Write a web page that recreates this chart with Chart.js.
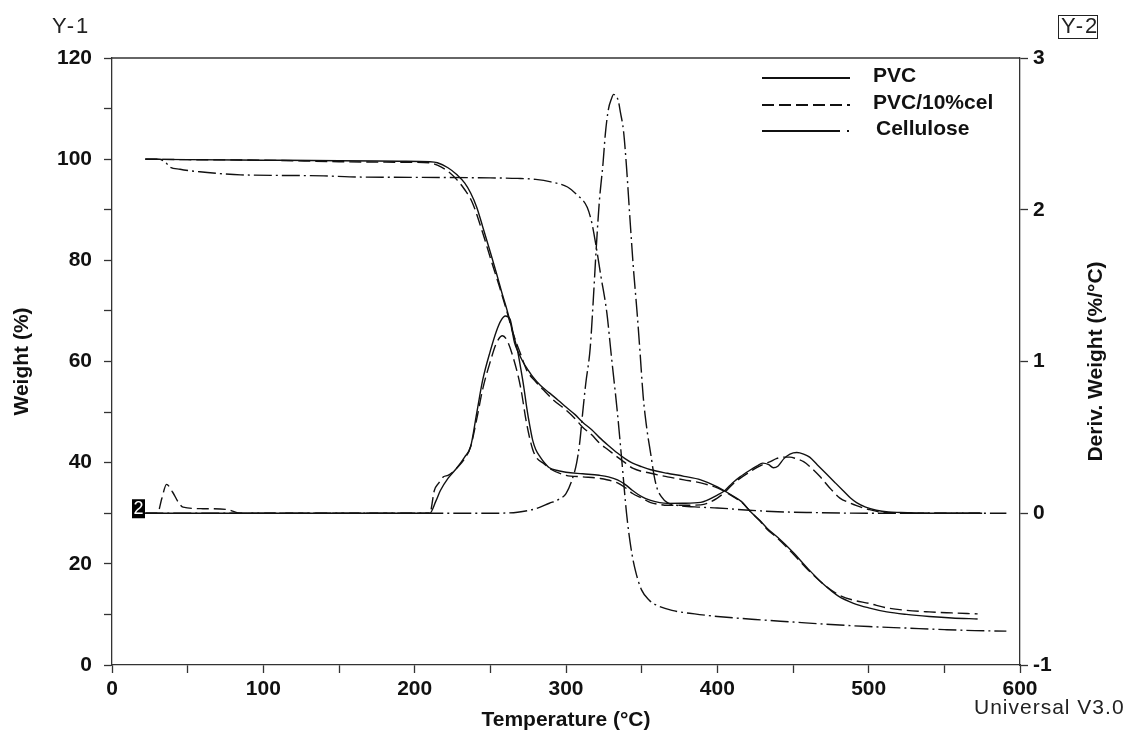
<!DOCTYPE html>
<html>
<head>
<meta charset="utf-8">
<script src="https://cdn.jsdelivr.net/npm/chart.js@4.4.1/dist/chart.umd.min.js"></script>
<style>
html,body{margin:0;padding:0;background:#fff;}
canvas{display:block;}
</style>
</head>
<body>
<canvas id="c" width="1128" height="731"></canvas>
<script>
// ---------- data ----------
const seriesNames = ['PVC', 'PVC/10%cel', 'Cellulose'];

// Weight (%) vs temperature (°C) — left axis
const tempWeightPVC = [22,50,100,150,190,210,215,222,228,233,237,241,245,250,254,258,261,264,266,269,272,275,278,283,289,295,300,306,311,317,322,328,334,339,344,350,356,367,378,389,400,406,411,416,422,428,433,440,450,460,470,480,490,500,512,525,540,555,572];
const weightPVC     = [100,99.9,99.8,99.7,99.6,99.5,99.3,98.3,96.9,95.3,93.3,90.5,86.6,81.6,77.5,73.2,70.2,66.7,63.7,61.5,59.7,58.3,57,55.3,53.8,52.3,51,49.5,48,46.5,45,43.4,41.9,40.8,39.9,39.2,38.6,37.9,37.3,36.6,35.2,34.2,33.3,32.3,30.3,28.6,27,25.2,22.3,19,16,13.6,12.2,11.3,10.5,10,9.6,9.3,9.1];

const tempWeightMix = [22,50,100,150,190,210,215,222,228,233,238,245,250,256,261,265,270,274,280,285,292,300,306,311,317,322,328,334,339,344,356,367,378,389,400,406,411,416,422,428,433,440,450,460,470,480,490,500,512,525,540,555,572];
const weightMix     = [100,99.9,99.8,99.5,99.4,99.3,98.8,97.6,95.9,94,91.5,85.4,80.5,74.8,69.8,65.6,61.5,58.3,56,54.4,52.3,50.4,48.7,47,45.5,43.9,42.5,41.1,40,38.9,37.9,37.2,36.6,36,35,34.1,33.2,32.2,30.3,28.5,26.8,25,22,18.8,16,13.9,12.8,12.2,11.3,10.8,10.5,10.3,10.1];

const tempWeightCel = [22,30,35,38,45,58,69,85,140,157,200,250,268,280,290,301,307,314,317,320,323,327,330,334,337,340,343,346,350,355,360,370,385,400,425,450,475,500,525,550,570,591];
const weightCel     = [100,100,99.5,98.5,98,97.5,97.2,96.9,96.7,96.5,96.4,96.3,96.2,96,95.5,94.5,93,90.5,87.5,82.6,77,69.6,61,49.8,40,30,23,18.5,14.8,12.8,11.8,10.8,10.1,9.6,9,8.5,8,7.6,7.3,7,6.8,6.7];

// Deriv. weight (%/°C) vs temperature — right axis
const tempDerivPVC = [22,100,200,210,214,217,222,228,233,237,241,245,250,254,257,260,263,265,268,270,272,274,276,278,280,283,286,289,295,300,311,322,328,334,339,344,350,356,362,367,377,389,400,405,410,415,421,426,430,434,437,440,444,448,452.5,457,461,466,472,478,483,488,492,498,505,513,521,540,575];
const derivPVC     = [0,0,0,0,0.08,0.15,0.23,0.30,0.37,0.44,0.66,0.88,1.07,1.2,1.27,1.30,1.28,1.19,1.07,0.96,0.84,0.70,0.58,0.48,0.42,0.37,0.33,0.30,0.28,0.27,0.26,0.25,0.24,0.22,0.19,0.15,0.11,0.085,0.07,0.065,0.066,0.072,0.12,0.15,0.20,0.24,0.28,0.31,0.33,0.32,0.30,0.31,0.36,0.39,0.40,0.39,0.37,0.32,0.26,0.20,0.15,0.10,0.07,0.04,0.02,0.008,0.005,0,0];

const tempDerivMix = [22,30,33,36,40,44,47,60,76,85,100,200,210,213,216,219,222,225,228,233,237,241,245,250,254,258,261,265,270,274,278,281,285,290,300,311,322,334,339,344,350,356,362,367,378,389,400,405,410,415,421,426,430,435,439,444,448,452,457,462,468,474,481,487,492,500,510,530,575];
const derivMix     = [0,0,0.1,0.19,0.14,0.07,0.04,0.03,0.025,0,0,0,0,0.15,0.2,0.24,0.25,0.27,0.30,0.36,0.44,0.62,0.82,1.0,1.12,1.17,1.14,1.03,0.83,0.59,0.42,0.36,0.33,0.29,0.25,0.24,0.23,0.20,0.17,0.13,0.10,0.07,0.058,0.053,0.053,0.055,0.10,0.14,0.19,0.23,0.27,0.30,0.32,0.34,0.36,0.37,0.37,0.36,0.34,0.30,0.24,0.17,0.10,0.07,0.05,0.025,0.005,0,0];

const tempDerivCel = [22,100,200,250,268,280,289,295,300,304,307,309,311,313,316,318,320,322,324.5,326,328,330,331.5,333,334.5,336,338,340,342,344.5,347,349,351,353.5,356,358,360,363,367,375,389,400,421,440,460,500,591];
const derivCel     = [0,0,0,0,0.007,0.03,0.066,0.09,0.13,0.22,0.33,0.46,0.66,0.85,1.09,1.40,1.75,2.05,2.31,2.5,2.66,2.73,2.76,2.75,2.72,2.64,2.52,2.28,1.98,1.62,1.32,1.05,0.77,0.55,0.39,0.26,0.17,0.11,0.07,0.05,0.04,0.035,0.02,0.01,0.005,0,0];

// axis ranges / ticks
const xTicks  = [0,100,200,300,400,500,600];
const y1Ticks = [0,20,40,60,80,100,120];
const y2Ticks = [-1,0,1,2,3];

// ---------- styles ----------
const INK = '#111';
const AXIS = '#333';
const DASH_MIX = [12,5];
const DASH_CEL = [18,4,2,4];
const FONT = '"Liberation Sans", Arial, sans-serif';

function pts(xs, ys){ return xs.map((x,i)=>({x:x, y:ys[i]})); }
function ds(label, xs, ys, axis, dash){
  return {
    label: label, data: pts(xs, ys), yAxisID: axis,
    borderColor: INK, borderWidth: 1.4, borderDash: dash,
    pointRadius: 0, fill: false, cubicInterpolationMode: 'monotone'
  };
}

const datasets = [
  ds(seriesNames[0], tempWeightPVC, weightPVC, 'y', []),
  ds(seriesNames[1], tempWeightMix, weightMix, 'y', DASH_MIX),
  ds(seriesNames[2], tempWeightCel, weightCel, 'y', DASH_CEL),
  ds(seriesNames[0], tempDerivPVC, derivPVC, 'y2', []),
  ds(seriesNames[1], tempDerivMix, derivMix, 'y2', DASH_MIX),
  ds(seriesNames[2], tempDerivCel, derivCel, 'y2', DASH_CEL)
];

const tickFont = {family: FONT, size: 21, weight: 'bold'};
const gridOpts = {drawOnChartArea:false, drawTicks:true, tickLength:8, tickColor:AXIS, tickWidth:1.3};
const borderOpts = {display:true, color:AXIS, width:1.3};

const decor = {
  id: 'decor',
  afterDraw(chart){
    const ctx = chart.ctx, a = chart.chartArea;
    ctx.save();
    // top frame line
    ctx.strokeStyle = AXIS; ctx.lineWidth = 1.3;
    ctx.beginPath(); ctx.moveTo(a.left, a.top); ctx.lineTo(a.right, a.top); ctx.stroke();

    // axis titles
    ctx.fillStyle = INK;
    ctx.font = 'bold 21px ' + FONT;
    ctx.textAlign = 'center'; ctx.textBaseline = 'middle';
    ctx.fillText('Temperature (°C)', (a.left + a.right)/2, 720);
    ctx.save(); ctx.translate(22, (a.top + a.bottom)/2); ctx.rotate(-Math.PI/2);
    ctx.fillText('Weight (%)', 0, 0); ctx.restore();
    ctx.save(); ctx.translate(1096, (a.top + a.bottom)/2); ctx.rotate(-Math.PI/2);
    ctx.fillText('Deriv. Weight (%/°C)', 0, 0); ctx.restore();

    // Y-1 / Y-2 / Universal labels
    ctx.fillStyle = '#222';
    ctx.font = '22px ' + FONT;
    ctx.letterSpacing = '2px';
    ctx.textAlign = 'left';
    ctx.fillText('Y-1', 52, 27);
    ctx.fillText('Y-2', 1061, 27);
    ctx.strokeStyle = '#222'; ctx.lineWidth = 1;
    ctx.strokeRect(1058.5, 15.5, 39, 23);
    ctx.font = '21px ' + FONT;
    ctx.letterSpacing = '1px';
    ctx.fillText('Universal V3.0', 974, 708);
    ctx.letterSpacing = '0px';

    // black marker "2" on the zero line of the derivative axis
    const y0 = chart.scales.y2.getPixelForValue(0);
    ctx.fillStyle = '#000';
    ctx.fillRect(132, y0 - 14, 13, 19);
    ctx.fillStyle = '#fff';
    ctx.font = '18px ' + FONT;
    ctx.textAlign = 'center';
    ctx.fillText('2', 138.5, y0 - 4);

    // legend
    const lx0 = 762, lx1 = 850;
    const rows = [
      {y: 78, dash: [], text: seriesNames[0], tx: 873},
      {y: 105, dash: DASH_MIX, text: seriesNames[1], tx: 873},
      {y: 131, dash: null, text: seriesNames[2], tx: 876}
    ];
    ctx.strokeStyle = INK; ctx.lineWidth = 2;
    rows.forEach(r => {
      ctx.beginPath();
      if (r.dash === null) {
        ctx.setLineDash([]);
        ctx.moveTo(lx0, r.y); ctx.lineTo(lx1 - 10, r.y); ctx.stroke();
        ctx.beginPath(); ctx.moveTo(lx1 - 3, r.y); ctx.lineTo(lx1 - 1, r.y); ctx.stroke();
      } else {
        ctx.setLineDash(r.dash);
        ctx.moveTo(lx0, r.y); ctx.lineTo(lx1, r.y); ctx.stroke();
      }
      ctx.setLineDash([]);
      ctx.fillStyle = INK;
      ctx.font = 'bold 21px ' + FONT;
      ctx.textAlign = 'left'; ctx.textBaseline = 'middle';
      ctx.fillText(r.text, r.tx, r.y - 2);
    });
    ctx.restore();
  }
};

new Chart(document.getElementById('c'), {
  type: 'line',
  data: {datasets: datasets},
  options: {
    responsive: false,
    animation: false,
    layout: {padding: {top: 58, left: 0, right: 0, bottom: 0}},
    plugins: {legend: {display:false}, tooltip: {enabled:false}, title: {display:false}},
    scales: {
      x: {
        type: 'linear', position: 'bottom',
        min: xTicks[0], max: xTicks[xTicks.length-1],
        ticks: {stepSize: 50, autoSkip:false, maxRotation:0, color: INK, font: tickFont, padding: 4,
                callback: v => xTicks.includes(v) ? String(v) : ''},
        grid: gridOpts, border: borderOpts,
        afterFit: s => { s.height = 66; }
      },
      y: {
        type: 'linear', position: 'left',
        min: y1Ticks[0], max: y1Ticks[y1Ticks.length-1],
        ticks: {stepSize: 10, autoSkip:false, color: INK, font: tickFont, padding: 12,
                callback: v => y1Ticks.includes(v) ? String(v) : ''},
        grid: gridOpts, border: borderOpts,
        afterFit: s => { s.width = 112; }
      },
      y2: {
        type: 'linear', position: 'right',
        min: y2Ticks[0], max: y2Ticks[y2Ticks.length-1],
        ticks: {stepSize: 1, autoSkip:false, color: INK, font: tickFont, padding: 5,
                callback: v => y2Ticks.includes(v) ? String(v) : ''},
        grid: gridOpts, border: borderOpts,
        afterFit: s => { s.width = 108; }
      }
    }
  },
  plugins: [decor]
});
</script>
</body>
</html>
